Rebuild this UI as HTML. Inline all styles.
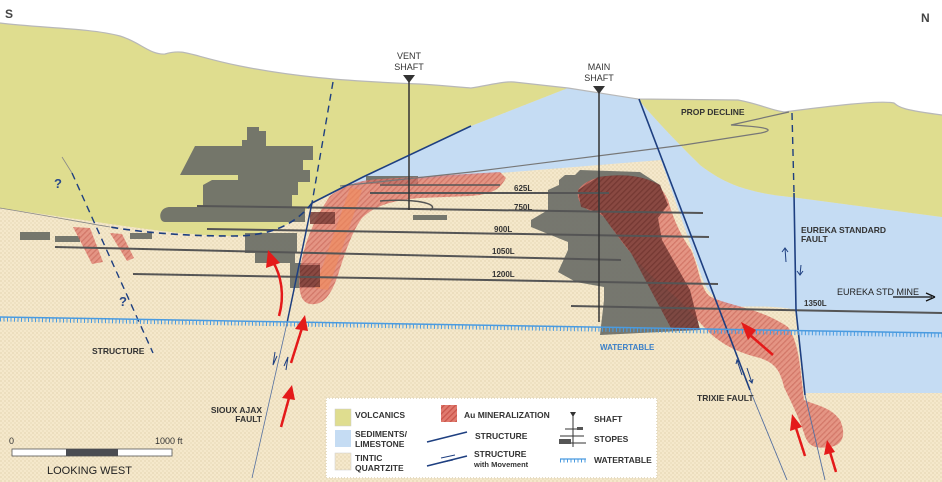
<!DOCTYPE html>
<html><head><meta charset="utf-8"><style>
html,body{margin:0;padding:0;background:#fff;}
svg{display:block;font-family:"Liberation Sans",Arial,sans-serif;}
.t{font-size:8.5px;font-weight:bold;fill:#333;}
</style></head><body>
<svg width="942" height="482" viewBox="0 0 942 482" xmlns="http://www.w3.org/2000/svg">
<defs>
<pattern id="dots" width="4" height="4" patternUnits="userSpaceOnUse">
<rect width="4" height="4" fill="#f5e8cb"/><circle cx="1" cy="1" r="0.6" fill="#d6c59f"/><circle cx="3" cy="3" r="0.6" fill="#e0d1ad"/>
</pattern>
<pattern id="hatch" width="4" height="4" patternUnits="userSpaceOnUse" patternTransform="rotate(45)">
<rect width="4" height="4" fill="#e07a6e"/><rect width="1.3" height="4" fill="#c9554b"/>
</pattern>
<pattern id="hatchd" width="4" height="4" patternUnits="userSpaceOnUse" patternTransform="rotate(45)">
<rect width="4" height="4" fill="#7e403a"/><rect width="1.3" height="4" fill="#6a322d"/>
</pattern>
</defs>
<rect x="0" y="0" width="942" height="482" fill="url(#dots)"/>
<path d="M568,88 L638,99 C660,125 680,145 700,165 C720,180 740,192 791,197 L942,217 L942,393 L804,393 L796,310 C780,306 750,306 731,307 C718,302 708,292 704,283 L661,160 L340,186 L363,177 L471,126 Z" fill="#c5dcf3"/>
<path d="M0,23 C40,28 90,28 120,36 C140,42 150,55 165,54 C185,48 190,56 240,66 C290,76 340,81 420,84 C450,86 470,88 471,88 C490,85 505,81 514,82 L568,88 L471,126 L363,177 L312,203 C295,225 270,236 233,236 C180,236 120,225 0,208 Z" fill="#dfdd8f"/>
<path d="M638,99 L738,100 C760,104 770,110 784,112 C830,106 880,100 894,103 C900,108 904,110 942,115 L942,217 L791,197 C740,192 720,180 700,165 C680,145 660,125 638,99 Z" fill="#dfdd8f"/>
<path d="M0,0 L942,0 L942,115 C904,110 900,108 894,103 C880,100 830,106 784,112 C770,110 760,104 738,100 L638,99 L568,88 L514,82 C505,81 490,85 471,88 C470,88 450,86 420,84 C340,81 290,76 240,66 C190,56 185,48 165,54 C150,55 140,42 120,36 C90,28 40,28 0,23 Z" fill="#fff"/>
<path d="M0,23 C40,28 90,28 120,36 C140,42 150,55 165,54 C185,48 190,56 240,66 C290,76 340,81 420,84 C450,86 470,88 471,88 C490,85 505,81 514,82 L568,88 L638,99 L738,100 C760,104 770,110 784,112 C830,106 880,100 894,103 C900,108 904,110 942,115" fill="none" stroke="#b8b8b8" stroke-width="1.2"/>
<path d="M0,208 C60,218 80,222 110,227" fill="none" stroke="#888" stroke-width="0.8"/>

<g fill="#6f7169" opacity="0.95">
<path d="M180,175 L195,146 L242,146 L242,140 L247,140 L247,127 L259,127 L259,131 L266,131 L266,146 L313,146 L313,160 L303,160 L303,170 L310,170 L310,182 L298,182 L298,195 L292,195 L292,207 L305,207 L305,222 L165,222 C158,222 158,207 170,207 L203,207 L203,185 L212,180 L238,180 L238,175 Z"/>
<rect x="245" y="233" width="52" height="20"/>
<rect x="255" y="253" width="40" height="10"/>
<rect x="290" y="263" width="30" height="25"/>
<rect x="20" y="232" width="30" height="8"/>
<rect x="55" y="236" width="25" height="6"/>
<rect x="130" y="233" width="22" height="6"/>
<rect x="413" y="215" width="34" height="5"/>
<rect x="366" y="176" width="52" height="8"/>
<path d="M559,180 L565,175 L575,175 L580,170 L640,172 L660,185 L668,205 L655,215 L660,240 L690,290 L700,330 L600,335 L604,300 L604,287 L576,282 L558,272 L568,250 L568,242 L531,227 L531,220 L548,210 L548,190 L559,185 Z"/>
</g>

<g opacity="0.75">
<path d="M330,196 C345,185 360,180 380,179 L500,172 L506,178 C500,188 495,194 470,196 L420,198 C395,200 375,205 362,218 C352,232 345,252 338,275 C332,292 325,306 310,304 C300,302 298,290 300,270 C303,250 310,225 330,196 Z" fill="url(#hatch)"/>
<path d="M578,190 C585,180 600,175 620,176 C645,176 660,182 668,200 C672,215 680,235 691,250 C700,270 700,290 711,297 C730,306 760,308 788,327 C800,345 800,370 804,400 C815,405 831,407 840,420 C846,433 844,445 830,447 C815,449 808,447 804,433 C798,415 790,400 784,387 C780,370 775,363 760,358 C740,353 720,345 704,327 C690,312 680,300 671,293 C655,280 640,265 631,253 C620,240 615,232 611,227 C607,218 601,213 592,211 C583,209 576,200 578,190 Z" fill="url(#hatch)"/>
<path d="M73,227 L90,228 L103,262 L92,264 Z" fill="url(#hatch)"/>
<path d="M110,233 L122,234 L134,258 L127,261 Z" fill="url(#hatch)"/>
</g>
<path d="M350,188 L362,190 L328,290 L315,288 Z" fill="#f08a5a" opacity="0.6"/>
<g opacity="0.85">
<path d="M598,177 C620,174 640,174 660,185 L668,205 L658,218 L662,240 L690,290 L700,330 L672,330 L631,253 L611,227 L601,213 L581,207 L578,190 Z" fill="url(#hatchd)"/>
<rect x="310" y="212" width="25" height="12" fill="url(#hatchd)"/>
<rect x="300" y="265" width="20" height="22" fill="url(#hatchd)"/>
</g>

<g stroke="#555" stroke-width="2" fill="none">
<line x1="370" y1="193" x2="609" y2="193"/>
<line x1="197" y1="206" x2="703" y2="213"/>
<line x1="207" y1="229" x2="709" y2="237"/>
<line x1="55" y1="247" x2="621" y2="260"/>
<line x1="133" y1="274" x2="718" y2="284"/>
<line x1="571" y1="306" x2="942" y2="313"/>
<line x1="380" y1="185" x2="500" y2="185" stroke-width="1.5"/>
<path d="M380,201 C420,198 440,205 430,210" stroke-width="1.5"/>
</g>
<g font-size="8" font-weight="bold">
<text x="514" y="191" fill="#333">625L</text>
<text x="514" y="210" fill="#333">750L</text>
<text x="494" y="232" fill="#333">900L</text>
<text x="492" y="254" fill="#333">1050L</text>
<text x="492" y="277" fill="#333">1200L</text>
<text x="804" y="306" fill="#333">1350L</text>
</g>
<path d="M340,186 L471,172 L684,145 L761,133 C775,130 770,127 731,125 L789,112" fill="none" stroke="#777" stroke-width="1.2"/>

<line x1="409" y1="80" x2="409" y2="210" stroke="#333" stroke-width="1.5"/>
<path d="M403,75 L415,75 L409,83 Z" fill="#333"/>
<text x="409" y="59" text-anchor="middle" font-size="9" fill="#333">VENT</text>
<text x="409" y="70" text-anchor="middle" font-size="9" fill="#333">SHAFT</text>
<line x1="599" y1="90" x2="599" y2="322" stroke="#333" stroke-width="1.5"/>
<path d="M593,86 L605,86 L599,94 Z" fill="#333"/>
<text x="599" y="70" text-anchor="middle" font-size="9" fill="#333">MAIN</text>
<text x="599" y="81" text-anchor="middle" font-size="9" fill="#333">SHAFT</text>

<g fill="none" stroke="#1e3f80">
<path d="M471,126 L363,177 L312,203" stroke-width="1.6"/>
<path d="M312,203 C295,225 270,236 233,236 C180,236 140,232 110,227" stroke-width="1.6" stroke-dasharray="7,5"/>
<line x1="333" y1="82" x2="312" y2="203" stroke-width="1.4" stroke-dasharray="7,5"/>
<line x1="312" y1="203" x2="287" y2="323" stroke-width="1.5"/>
<line x1="287" y1="323" x2="252" y2="478" stroke="#5570a0" stroke-width="0.8"/>
<line x1="639" y1="99" x2="750" y2="390" stroke-width="1.6"/>
<line x1="750" y1="390" x2="787" y2="480" stroke="#5570a0" stroke-width="0.9"/>
<line x1="792" y1="113" x2="794" y2="193" stroke-width="1.4" stroke-dasharray="7,5"/>
<path d="M794,193 L796,310 L805,395" stroke-width="1.6"/>
<line x1="805" y1="395" x2="825" y2="480" stroke="#5570a0" stroke-width="0.9"/>
<line x1="62" y1="157" x2="72" y2="173" stroke="#888" stroke-width="0.8"/>
<line x1="72" y1="173" x2="153" y2="353" stroke-width="1.4" stroke-dasharray="7,5"/>
<path d="M275,352 L273,365 L277,356" stroke-width="1"/>
<path d="M286,370 L288,357 L284,366" stroke-width="1"/>
<path d="M785,248 L786,262" stroke-width="1"/><path d="M782,252 L785,248 L788,252" stroke-width="1"/>
<path d="M801,265 L800,275" stroke-width="1"/><path d="M797,271 L800,275 L803,271" stroke-width="1"/>
<path d="M737,360 L742,375 M736,364 L737,360 L740,363" stroke-width="1"/>
<path d="M747,368 L752,383 M749,380 L752,383 L753,379" stroke-width="1"/>
</g>
<text x="54" y="188" font-size="13" font-weight="bold" fill="#2a4a8a">?</text>
<text x="119" y="306" font-size="13" font-weight="bold" fill="#2a4a8a">?</text>

<path d="M0,317 L942,333" stroke="#4a9be0" stroke-width="1.5" fill="none"/>
<path d="M0,317 L942,333" stroke="#4a9be0" stroke-width="4" stroke-dasharray="1,2.5" fill="none" transform="translate(0,2.5)"/>
<text x="600" y="350" font-size="8" font-weight="bold" fill="#3a7fc8">WATERTABLE</text>

<g stroke="#e41a1a" stroke-width="2.5" fill="none">
<path d="M279,316 C285,295 281,275 273,262"/>
<line x1="291" y1="363" x2="302" y2="328"/>
<line x1="281" y1="427" x2="289" y2="398"/>
<line x1="773" y1="355" x2="750" y2="335"/>
<line x1="805" y1="456" x2="796" y2="428"/>
<line x1="836" y1="472" x2="830" y2="452"/>
</g>
<g fill="#e41a1a">
<path d="M268,250 L266,268 L280,263 Z"/>
<path d="M305,315 L295,329 L308,331 Z"/>
<path d="M292,385 L282,398 L295,400 Z"/>
<path d="M741,322 L748,340 L756,330 Z"/>
<path d="M792,414 L790,431 L802,427 Z"/>
<path d="M827,440 L824,455 L835,452 Z"/>
</g>

<text x="5" y="18" font-size="12" font-weight="bold" fill="#444">S</text>
<text x="921" y="22" font-size="12" font-weight="bold" fill="#444">N</text>
<text class="t" x="681" y="115">PROP DECLINE</text>
<text class="t" x="801" y="233">EUREKA STANDARD</text>
<text class="t" x="801" y="242">FAULT</text>
<text x="837" y="295" font-size="9" fill="#222">EUREKA STD MINE</text>
<line x1="893" y1="297" x2="932" y2="297" stroke="#111" stroke-width="1.3"/>
<path d="M935,297 L926,293 M935,297 L926,301" stroke="#111" stroke-width="1.3"/>
<text class="t" x="92" y="354">STRUCTURE</text>
<text class="t" x="262" y="413" text-anchor="end">SIOUX AJAX</text>
<text class="t" x="262" y="422" text-anchor="end">FAULT</text>
<text class="t" x="697" y="401">TRIXIE FAULT</text>

<text x="9" y="444" font-size="9" fill="#333">0</text>
<text x="155" y="444" font-size="9" fill="#333">1000 ft</text>
<rect x="12" y="449" width="160" height="7" fill="#fff" stroke="#555" stroke-width="0.8"/>
<rect x="66" y="449" width="52" height="7" fill="#4a4c52"/>
<text x="47" y="474" font-size="11" fill="#222">LOOKING WEST</text>

<rect x="326" y="398" width="331" height="80" fill="#fff" stroke="#e5dcc4" stroke-width="2" stroke-dasharray="1,2"/>
<rect x="335" y="409" width="16" height="17" fill="#dfdd8f" stroke="#ccc" stroke-width="0.5"/>
<rect x="335" y="430" width="16" height="17" fill="#c5dcf3"/>
<rect x="335" y="453" width="16" height="17" fill="url(#dots)" stroke="#ccc" stroke-width="0.5"/>
<text class="t" x="355" y="418">VOLCANICS</text>
<text class="t" x="355" y="437">SEDIMENTS/</text>
<text class="t" x="355" y="447">LIMESTONE</text>
<text class="t" x="355" y="461">TINTIC</text>
<text class="t" x="355" y="471">QUARTZITE</text>
<rect x="441" y="405" width="16" height="17" fill="url(#hatch)"/>
<text class="t" x="464" y="418">Au MINERALIZATION</text>
<line x1="427" y1="442" x2="467" y2="432" stroke="#1e3f80" stroke-width="1.5"/>
<text class="t" x="475" y="439">STRUCTURE</text>
<line x1="427" y1="466" x2="467" y2="456" stroke="#1e3f80" stroke-width="1.5"/>
<path d="M441,458 L455,455 M439,463 L453,460" stroke="#1e3f80" stroke-width="1"/>
<text class="t" x="474" y="457">STRUCTURE</text>
<text x="474" y="467" font-size="7.5" font-weight="bold" fill="#333">with Movement</text>
<path d="M570,412 L576,412 L573,417 Z" fill="#333"/>
<line x1="573" y1="412" x2="573" y2="447" stroke="#333" stroke-width="1"/>
<line x1="565" y1="429" x2="580" y2="429" stroke="#333"/><rect x="577" y="427" width="6" height="3" fill="#555"/>
<line x1="560" y1="436" x2="584" y2="436" stroke="#333"/>
<rect x="559" y="439" width="12" height="5" fill="#555"/><line x1="571" y1="443" x2="586" y2="443" stroke="#333"/>
<text class="t" x="594" y="422">SHAFT</text>
<text class="t" x="594" y="442">STOPES</text>
<path d="M560,459 L586,459" stroke="#4a9be0" stroke-width="1.2"/>
<path d="M560,461 L586,461" stroke="#4a9be0" stroke-width="3" stroke-dasharray="1,2.5"/>
<text class="t" x="594" y="463">WATERTABLE</text>
</svg>
</body></html>
